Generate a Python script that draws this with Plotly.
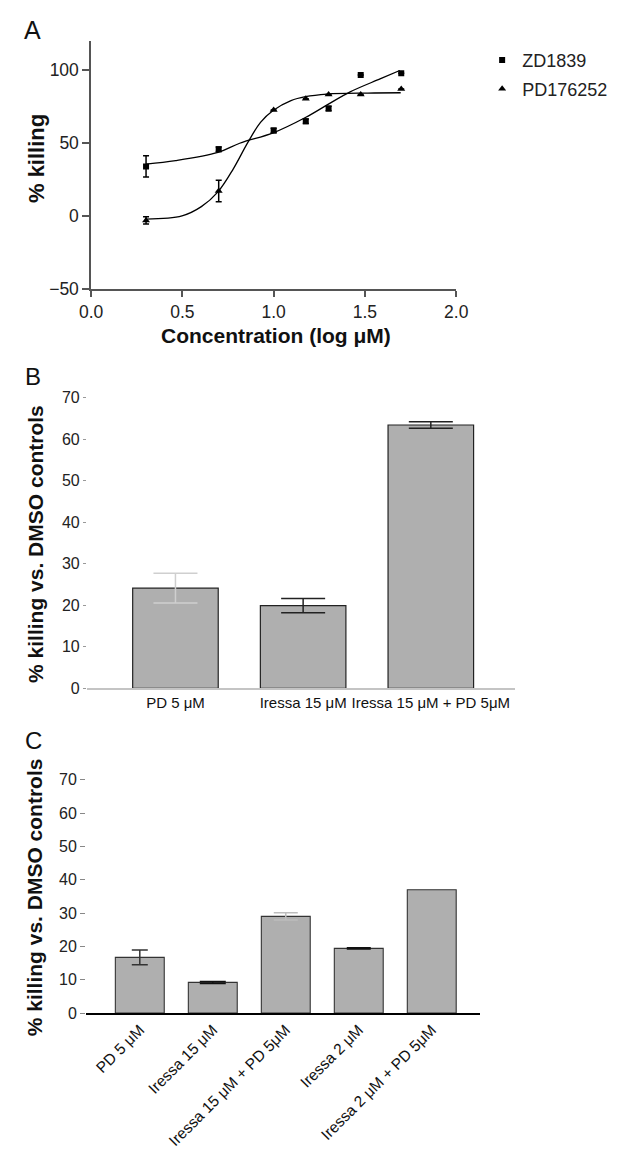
import plotly.graph_objects as go

# ---------------- Panel A data ----------------
conc_log = [0.301, 0.699, 1.0, 1.176, 1.301, 1.477, 1.699]
zd_kill = [34.0, 45.7, 58.5, 64.8, 73.5, 96.4, 97.7]
zd_err = [7.2, 1.5, 1.5, 1.5, 1.5, 0, 0]
pd_kill = [-2.9, 17.2, 72.6, 80.2, 83.1, 83.1, 86.8]
pd_err = [2.5, 7.3, 0, 0, 0, 0, 0]

zd_fit_x = [0.301, 0.463, 0.695, 0.814, 0.997, 1.174, 1.293, 1.419, 1.586, 1.691]
zd_fit_y = [35.6, 37.9, 43.5, 49.8, 56.9, 67.4, 76.0, 84.9, 93.9, 99.5]
pd_fit_x = [0.301, 0.498, 0.604, 0.695, 0.779, 0.858, 0.928, 0.997, 1.095, 1.174, 1.293, 1.516, 1.696]
pd_fit_y = [-2.0, 0.2, 6.5, 16.6, 32.3, 50.2, 64.1, 72.2, 78.9, 81.6, 83.4, 84.1, 84.3]

a_xticks = [0, 0.5, 1.0, 1.5, 2.0]
a_xticktext = ["0.0", "0.5", "1.0", "1.5", "2.0"]
a_yticks = [-50, 0, 50, 100]

# ---------------- Panel B data ----------------
b_labels = ["PD 5 μM", "Iressa 15 μM", "Iressa 15 μM + PD 5μM"]
b_vals = [24.1, 19.9, 63.4]
b_err = [3.6, 1.7, 0.8]

# ---------------- Panel C data ----------------
c_labels = ["PD 5 μM", "Iressa 15 μM", "Iressa 15 μM + PD 5μM", "Iressa 2 μM", "Iressa 2 μM + PD 5μM"]
c_vals = [16.7, 9.2, 29.0, 19.4, 37.0]
c_err = [2.2, 0.3, 1.1, 0.2, 0]

bar_yticks = [0, 10, 20, 30, 40, 50, 60, 70]

# ---------------- styles ----------------
FONT = "Arial, Liberation Sans, sans-serif"
PAGE_OFF = 8  # default body margin of the html page
W, H = 620 - PAGE_OFF, 1158 - 2 * PAGE_OFF
BAR_FILL = "#afafaf"
b_err_colors = ["#cfcfcf", "#222222", "#222222"]
b_err_widths = [22, 22, 22]
c_err_colors = ["#333333", "#111111", "#bdbdbd", "#111111", "#bdbdbd"]
c_err_widths = [8, 13, 12, 12, 12]


def px(x):
    return (x - PAGE_OFF) / W


def py(y):
    return 1 - (y - PAGE_OFF) / H


fig = go.Figure()

# Panel A
fig.add_trace(go.Scatter(x=zd_fit_x, y=zd_fit_y, mode="lines", line=dict(color="black", width=1.3, shape="spline"),
                         showlegend=False, xaxis="x", yaxis="y"))
fig.add_trace(go.Scatter(x=pd_fit_x, y=pd_fit_y, mode="lines", line=dict(color="black", width=1.3, shape="spline"),
                         showlegend=False, xaxis="x", yaxis="y"))
fig.add_trace(go.Scatter(x=conc_log, y=zd_kill, mode="markers", name="ZD1839",
                         marker=dict(symbol="square", size=6, color="black"),
                         error_y=dict(type="data", array=zd_err, color="black", thickness=1.5, width=3),
                         xaxis="x", yaxis="y", legend="legend"))
fig.add_trace(go.Scatter(x=conc_log, y=pd_kill, mode="markers", name="PD176252",
                         marker=dict(symbol="triangle-up", size=7, color="black"),
                         error_y=dict(type="data", array=pd_err, color="black", thickness=1.5, width=3),
                         xaxis="x", yaxis="y", legend="legend2"))

# Panel B
fig.add_trace(go.Bar(x=b_labels, y=b_vals, marker=dict(color=BAR_FILL, line=dict(color="#222222", width=1.2)),
                     width=0.67, showlegend=False, xaxis="x2", yaxis="y2"))
for lab, v, e, col, w in zip(b_labels, b_vals, b_err, b_err_colors, b_err_widths):
    fig.add_trace(go.Scatter(x=[lab], y=[v], mode="markers", marker=dict(size=0.1, opacity=0),
                             error_y=dict(type="data", array=[e], color=col, thickness=1.5, width=w),
                             showlegend=False, xaxis="x2", yaxis="y2"))

# Panel C
fig.add_trace(go.Bar(x=c_labels, y=c_vals, marker=dict(color=BAR_FILL, line=dict(color="#333333", width=1.1)),
                     width=0.67, showlegend=False, xaxis="x3", yaxis="y3"))
for lab, v, e, col, w in zip(c_labels, c_vals, c_err, c_err_colors, c_err_widths):
    if e > 0:
        fig.add_trace(go.Scatter(x=[lab], y=[v], mode="markers", marker=dict(size=0.1, opacity=0),
                                 error_y=dict(type="data", array=[e], color=col, thickness=1.5, width=w),
                                 showlegend=False, xaxis="x3", yaxis="y3"))

tickfont_a = dict(family=FONT, size=17.5, color="#222222")
tickfont_bar = dict(family=FONT, size=16, color="#222222")
catfont_b = dict(family=FONT, size=15, color="#111111")
catfont_c = dict(family=FONT, size=15.5, color="#111111")

fig.update_layout(
    width=W, height=H,
    margin=dict(l=0, r=0, t=0, b=0),
    paper_bgcolor="white", plot_bgcolor="white",
    font=dict(family=FONT, color="#222222"),
    xaxis=dict(domain=[px(82), px(462)], range=[0, 2], tickvals=a_xticks, ticktext=a_xticktext,
               showline=True, linecolor="#555555", linewidth=1.5, ticks="outside", ticklen=6,
               tickcolor="#555555", tickwidth=1.5, tickfont=tickfont_a, showgrid=False, zeroline=False,
               anchor="y"),
    yaxis=dict(domain=[py(285.7), py(32.9)], range=[-50, 120], tickvals=a_yticks,
               showline=True, linecolor="#555555", linewidth=1.5, ticks="outside", ticklen=7,
               tickcolor="#555555", tickwidth=1.5, tickfont=tickfont_a, showgrid=False, zeroline=False,
               anchor="x"),
    xaxis2=dict(domain=[px(77.7), px(523.3)], range=[-0.693, 2.66], showline=True, linecolor="#c4c4c4",
                linewidth=1.5, ticks="", tickfont=catfont_b, showgrid=False, zeroline=False, anchor="y2",
                tickangle=0),
    yaxis2=dict(domain=[py(691), py(395.7)], range=[0, 70], tickvals=bar_yticks, showline=False,
                ticks="outside", ticklen=3, tickcolor="#999999", tickwidth=1, tickfont=tickfont_bar,
                showgrid=False, zeroline=False, anchor="x2"),
    xaxis3=dict(domain=[px(76.7), px(486.7)], range=[-0.737, 4.66], showline=True, linecolor="black",
                linewidth=1.5, ticks="", tickfont=catfont_c, tickangle=-45, showgrid=False, zeroline=False,
                anchor="y3"),
    yaxis3=dict(domain=[py(1021), py(784)], range=[0, 70], tickvals=bar_yticks, showline=False,
                ticks="outside", ticklen=5, tickcolor="#888888", tickwidth=1, tickfont=tickfont_bar,
                showgrid=False, zeroline=False, anchor="x3"),
    legend=dict(x=px(489), y=py(53), xanchor="left", yanchor="middle", bgcolor="rgba(0,0,0,0)",
                font=dict(family=FONT, size=18, color="#222222"), borderwidth=0),
    legend2=dict(x=px(489), y=py(82.3), xanchor="left", yanchor="middle", bgcolor="rgba(0,0,0,0)",
                 font=dict(family=FONT, size=18, color="#222222"), borderwidth=0),
)

annots = [
    dict(text="A", x=px(21), y=py(22), size=25, bold=False, angle=0),
    dict(text="B", x=px(22), y=py(374), size=24, bold=False, angle=0),
    dict(text="C", x=px(22), y=py(744), size=24, bold=False, angle=0),
    dict(text="% killing", x=px(25), y=py(153), size=22, bold=True, angle=-90),
    dict(text="Concentration (log μM)", x=px(274.7), y=py(333), size=21, bold=True, angle=0),
    dict(text="% killing vs. DMSO controls", x=px(24), y=py(544), size=21, bold=True, angle=-90),
    dict(text="% killing vs. DMSO controls", x=px(24), y=py(903), size=21, bold=True, angle=-90),
]
for a in annots:
    txt = f"<b>{a['text']}</b>" if a["bold"] else a["text"]
    fig.add_annotation(text=txt, x=a["x"], y=a["y"], xref="paper", yref="paper", showarrow=False,
                       xanchor="center", yanchor="middle", textangle=a["angle"],
                       font=dict(family=FONT, size=a["size"], color="#111111"))

fig.write_html("out.html")
